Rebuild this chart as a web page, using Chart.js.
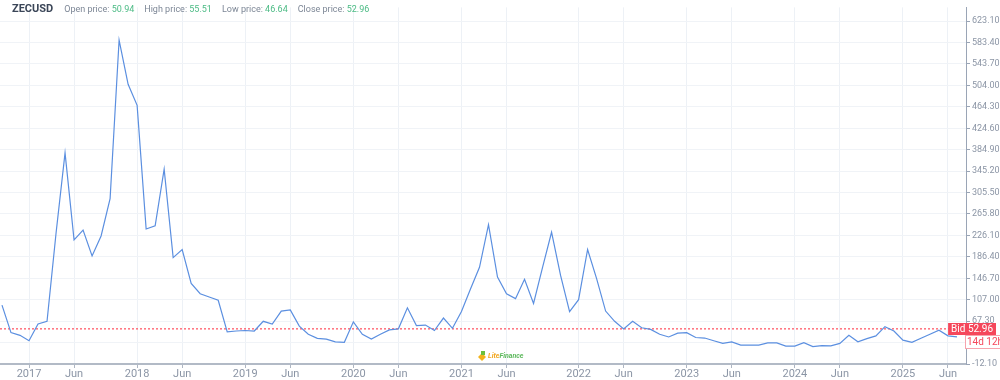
<!DOCTYPE html>
<html>
<head>
<meta charset="utf-8">
<script src="https://cdn.jsdelivr.net/npm/chart.js@4/dist/chart.umd.min.js"></script>
<style>
  html, body { margin: 0; padding: 0; background: #ffffff; }
  #wrap { position: relative; width: 1000px; height: 380px; }
  #hdr { position: absolute; left: 12px; top: 0px; height: 14px; line-height: 14px; font-family: Roboto, "Open Sans", sans-serif; white-space: nowrap; z-index: 2; }
  #hdr .sym { font-size: 11px; font-weight: 700; color: #3b4658; margin-right: 11px; }
  #hdr .lab { font-size: 9px; color: #7d8796; margin-right: 10px; }
  #hdr .val { color: #4cbb85; }
</style>
</head>
<body>
<div id="wrap">
  <div id="hdr"></div>
  <canvas id="c" width="1000" height="380"></canvas>
</div>
<script>
const symbol = "ZECUSD";
const ohlcLabels = ["Open price:", "High price:", "Low price:", "Close price:"];
const ohlcValues = ["50.94", "55.51", "46.64", "52.96"];

// monthly closes, index 0 = Oct 2016
const values = [
  97, 46, 41, 31, 62, 67, 230, 379, 218, 236,
  188, 225, 294, 588, 506, 467, 238, 244, 349, 185,
  200, 137, 118, 112, 106, 47.5, 49, 50, 49, 67,
  62, 86, 88, 58, 43, 35.5, 34, 29, 28, 66,
  43, 34, 43, 51, 53, 92, 59, 60, 50, 73,
  54, 85, 127, 167, 246, 149, 118, 109, 145, 100,
  167, 232, 152, 85, 107, 200, 146, 86, 67, 53,
  67, 55, 52, 43, 38, 45, 46, 37, 36, 31,
  26, 29, 23, 23, 23, 27, 27, 21, 21, 27.5,
  20, 22, 21.5, 26, 41, 29, 35, 40, 57, 49,
  32, 28, 35.5, 43, 50.6, 40, 38
];

const xTickIndex = [3, 8, 15, 20, 27, 32, 39, 44, 51, 56, 64, 69, 76, 81, 88, 93, 100, 105];
const xTickLabels = ["2017", "Jun", "2018", "Jun", "2019", "Jun", "2020", "Jun", "2021", "Jun",
                     "2022", "Jun", "2023", "Jun", "2024", "Jun", "2025", "Jun"];

const yTickValues = [-12.10, 27.60, 67.30, 107.00, 146.70, 186.40, 226.10, 265.80, 305.50,
                     345.20, 384.90, 424.60, 464.30, 504.00, 543.70, 583.40, 623.10];

const bidValue = 52.96;
const bidText = "Bid 52.96";
const timerText = "14d 12h";

const xMin = -0.22, xMax = 107;

// header
const hdr = document.getElementById('hdr');
let h = '<span class="sym">' + symbol + '</span>';
ohlcLabels.forEach((l, i) => {
  h += '<span class="lab">' + l + ' <span class="val">' + ohlcValues[i] + '</span></span>';
});
hdr.innerHTML = h;

const points = values.map((v, i) => ({ x: i, y: v }));

const overlay = {
  id: 'overlay',
  beforeDatasetsDraw(chart) {
    const { ctx } = chart;
    // watermark logo
    ctx.save();
    const lx = 482, ly = 357;
    ctx.fillStyle = '#f2b31c';
    ctx.beginPath();
    ctx.moveTo(lx, ly - 4); ctx.lineTo(lx + 4, ly); ctx.lineTo(lx, ly + 4); ctx.lineTo(lx - 4, ly);
    ctx.closePath(); ctx.fill();
    ctx.fillStyle = '#6cbf3c';
    ctx.fillRect(lx - 1, ly - 6, 4, 4);
    ctx.font = 'italic bold 7px Roboto, sans-serif';
    ctx.textBaseline = 'middle';
    ctx.fillStyle = '#f2a51c';
    ctx.fillText('Lite', lx + 6, ly - 1);
    const w = ctx.measureText('Lite').width;
    ctx.fillStyle = '#5cb85c';
    ctx.fillText('Finance', lx + 6 + w, ly - 1);
    ctx.restore();
  },
  afterDraw(chart) {
    const { ctx, chartArea, scales } = chart;
    const y = Math.round(scales.y.getPixelForValue(bidValue));
    ctx.save();
    ctx.font = '10px Roboto, sans-serif';
    ctx.textBaseline = 'middle';
    // bid box
    const bw = ctx.measureText(bidText).width + 6;
    const bx = 996 - bw;
    ctx.fillStyle = '#f5475b';
    ctx.fillRect(bx, y - 6, bw, 12);
    ctx.fillStyle = '#ffffff';
    ctx.fillText(bidText, bx + 3, y + 0.5);
    // timer box
    const tx = chartArea.right - 1;
    ctx.fillStyle = '#ffffff';
    ctx.fillRect(tx, y + 6, 1000 - tx, 14);
    ctx.strokeStyle = '#f7a3ad';
    ctx.lineWidth = 1;
    ctx.strokeRect(tx + 0.5, y + 6.5, 1000 - tx, 13);
    ctx.fillStyle = '#f5475b';
    ctx.fillText(timerText, tx + 2, y + 13.5);
    ctx.restore();
  }
};

new Chart(document.getElementById('c'), {
  type: 'line',
  data: {
    datasets: [{
      data: points,
      borderColor: '#5b8fe0',
      borderWidth: 1.2,
      pointRadius: 0,
      tension: 0,
      fill: false,
      order: 1
    }, {
      data: [{ x: xMin, y: bidValue }, { x: xMax, y: bidValue }],
      borderColor: 'rgba(255, 40, 60, 1)',
      borderWidth: 1,
      borderDash: [2, 2],
      pointRadius: 0,
      fill: false,
      order: 2
    }]
  },
  options: {
    responsive: false,
    animation: false,
    layout: { padding: 0 },
    plugins: { legend: { display: false }, tooltip: { enabled: false } },
    scales: {
      x: {
        type: 'linear',
        min: xMin,
        max: xMax,
        afterBuildTicks(scale) { scale.ticks = xTickIndex.map(v => ({ value: v })); },
        afterFit(scale) { scale.height = 16; },
        ticks: {
          autoSkip: false,
          maxRotation: 0,
          padding: 0,
          color: '#8b95a5',
          font: { family: 'Roboto, sans-serif', size: 11 },
          callback(v) { const i = xTickIndex.indexOf(v); return i >= 0 ? xTickLabels[i] : ''; }
        },
        grid: { color: '#edf1f6', tickColor: '#aeb6c3', tickLength: 4, lineWidth: 1 },
        border: { color: '#b2bac6', width: 2 }
      },
      y: {
        position: 'right',
        min: -12.1,
        max: 648.5,
        afterBuildTicks(scale) { scale.ticks = yTickValues.map(v => ({ value: v })); },
        afterFit(scale) { scale.width = 34; },
        ticks: {
          autoSkip: false,
          padding: 2,
          color: '#8b95a5',
          font: { family: 'Roboto, sans-serif', size: 9 },
          callback(v) { return Number(v).toFixed(2); }
        },
        grid: { color: '#f0f3f7', tickColor: '#9aa5b6', tickLength: 4, lineWidth: 1 },
        border: { color: '#9aa5b6', width: 1 }
      }
    }
  },
  plugins: [overlay]
});
</script>
</body>
</html>
